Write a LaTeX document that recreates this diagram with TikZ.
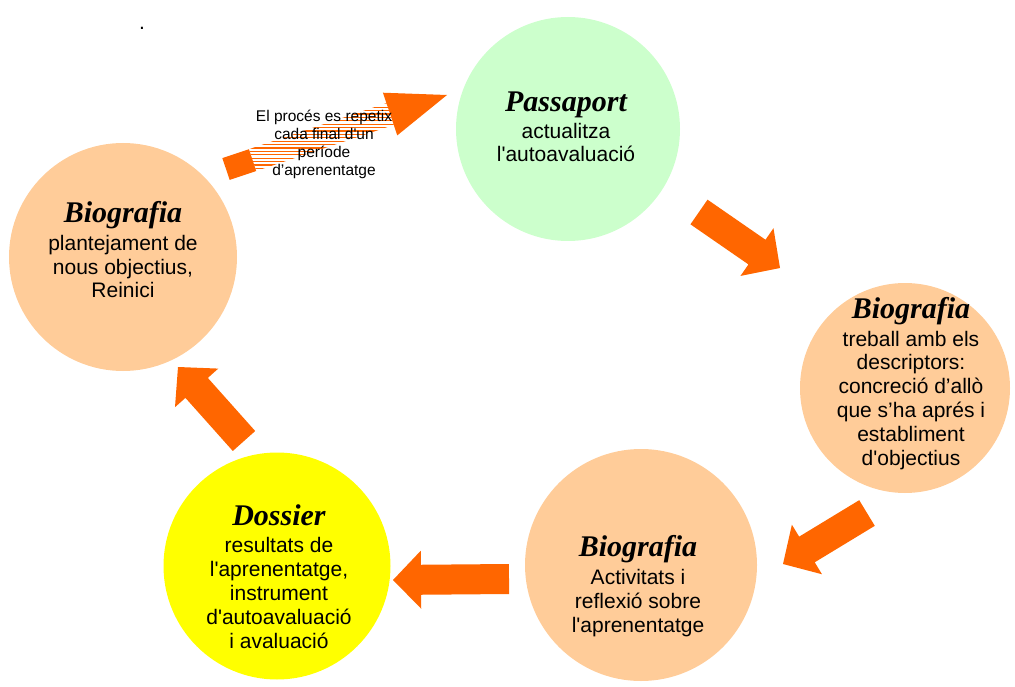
\documentclass[tikz,border=0pt]{standalone}
\usepackage{fontspec}
\newfontfamily\bodyfont{Liberation Sans}
\newfontfamily\titleserif{Liberation Serif}
\usepackage{tikz}
\usetikzlibrary{calc}

\definecolor{arroworange}{HTML}{FF6600}
\definecolor{passgreen}{HTML}{CCFFCC}
\definecolor{peach}{HTML}{FFCC99}
\definecolor{dossieryellow}{HTML}{FFFF00}

\newcommand{\heading}[1]{{\titleserif\bfseries\itshape\fontsize{30}{30}\selectfont #1}}

\begin{document}
\begin{tikzpicture}[x=1pt,y=-1pt,
	bubble/.style={circle,inner sep=0pt,minimum size=#1},
	bubbletext/.style={align=center,anchor=base,inner sep=0pt,font=\bodyfont\fontsize{21}{23.8}\selectfont},
	notetext/.style={align=center,anchor=base,inner sep=0pt,font=\bodyfont\fontsize{15.5}{18}\selectfont},
	blockarrow/.style={fill=arroworange},
	stripe/.style={draw=arroworange,line width=1.1pt}]
		\useasboundingbox (0,0) rectangle (1015,687);
		
		% circles
		\node[bubble=224pt,fill=passgreen] (passaport) at (568,129) {};
		\node[bubble=210pt,fill=peach] (treball) at (905,388) {};
		\node[bubble=232pt,fill=peach] (activitats) at (641,565) {};
		\node[bubble=227pt,fill=dossieryellow] (dossier) at (277,566) {};
		\node[bubble=228pt,fill=peach] (reinici) at (123,257) {};
		
		% block arrows
		\coordinate (a1t) at (699,212);
		\coordinate (a1p) at (780,268);
		\coordinate (a2t) at (867,513);
		\coordinate (a2p) at (783,564);
		\coordinate (a3t) at (509,579);
		\coordinate (a3p) at (393,580);
		\coordinate (a4t) at (244,441);
		\coordinate (a4p) at (178,367);
		\foreach \t/\p in {a1t/a1p,a2t/a2p,a3t/a3p,a4t/a4p}{
			\coordinate (h) at ($(\p)!28pt!(\t)$);
			\fill[blockarrow] ($(\t)!15pt!90:(\p)$) -- ($(h)!15pt!90:(\p)$) -- ($(h)!29pt!90:(\p)$) -- (\p)
				-- ($(h)!29pt!-90:(\p)$) -- ($(h)!15pt!-90:(\p)$) -- ($(\t)!15pt!-90:(\p)$) -- cycle;
		}
		
		% striped arrow
		\coordinate (st) at (226,169);
		\coordinate (sp) at (447,95);
		\coordinate (sa) at ($(st)!28pt!(sp)$);
		\coordinate (sb) at ($(sp)!60pt!(st)$);
		\fill[blockarrow] ($(st)!11.5pt!90:(sp)$) -- ($(sa)!11.5pt!90:(sp)$) -- ($(sa)!11.5pt!-90:(sp)$) -- ($(st)!11.5pt!-90:(sp)$) -- cycle;
		\fill[blockarrow] ($(sb)!22.5pt!90:(sp)$) -- (sp) -- ($(sb)!22.5pt!-90:(sp)$) -- cycle;
		\begin{scope}
			\clip ($(sa)!11.5pt!90:(sp)$) -- ($(sb)!11.5pt!90:(sp)$) -- ($(sb)!11.5pt!-90:(sp)$) -- ($(sa)!11.5pt!-90:(sp)$) -- cycle;
			\foreach \y in {80,83.4,...,190}
				\draw[stripe] (200,\y) -- (460,\y);
		\end{scope}
		
		% texts (anchored on the last line)
		\node[bubbletext] (dot) at (142,30) {.};
		\node[notetext] (repeat) at (324,176) {El procés es repetix\\cada final d'un\\període\\d’aprenentatge};
		\node[bubbletext] (passaport-t) at (566,162) {\heading{Passaport}\\[3pt]actualitza\\l'autoavaluació};
		\node[bubbletext] (treball-t) at (911,465) {\heading{Biografia}\\[4pt]treball amb els\\descriptors:\\concreció d’allò\\que s’ha aprés i\\establiment\\d'objectius};
		\node[bubbletext] (activitats-t) at (638,632) {\heading{Biografia}\\[4pt]Activitats i\\reflexió sobre\\l'aprenentatge};
		\node[bubbletext] (dossier-t) at (279,648) {\heading{Dossier}\\[4pt]resultats de\\l'aprenentatge,\\instrument\\d'autoavaluació\\i avaluació};
		\node[bubbletext] (reinici-t) at (123,298) {\heading{Biografia}\\[4pt]plantejament de\\nous objectius,\\Reinici};
\end{tikzpicture}
\end{document}
